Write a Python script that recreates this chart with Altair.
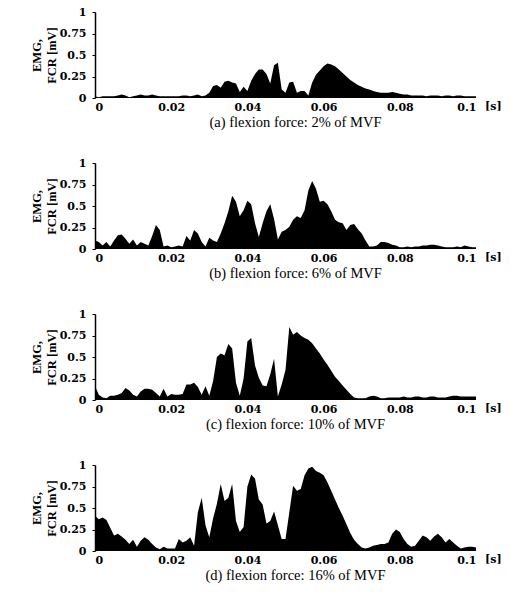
import altair as alt
import pandas as pd

# time samples in milliseconds (0 .. 100 ms)
time_ms = list(range(0, 101))

emg_2pct = [0.02, 0.01, 0.02, 0.02, 0.02, 0.02, 0.03, 0.04, 0.03, 0.01,
            0.02, 0.03, 0.04, 0.03, 0.03, 0.04, 0.03, 0.02, 0.02, 0.02,
            0.02, 0.02, 0.02, 0.03, 0.03, 0.02, 0.03, 0.04, 0.02, 0.03,
            0.06, 0.14, 0.15, 0.12, 0.19, 0.20, 0.18, 0.17, 0.07, 0.13,
            0.08, 0.20, 0.28, 0.33, 0.33, 0.28, 0.17, 0.38, 0.41, 0.10,
            0.06, 0.18, 0.19, 0.06, 0.08, 0.08, 0.03, 0.18, 0.27, 0.32,
            0.37, 0.40, 0.39, 0.37, 0.33, 0.29, 0.25, 0.21, 0.18, 0.15,
            0.13, 0.11, 0.10, 0.08, 0.07, 0.06, 0.06, 0.06, 0.07, 0.06,
            0.05, 0.04, 0.04, 0.03, 0.03, 0.03, 0.03, 0.02, 0.03, 0.03,
            0.03, 0.02, 0.03, 0.03, 0.02, 0.03, 0.03, 0.02, 0.02, 0.02,
            0.02]

emg_6pct = [0.10, 0.08, 0.04, 0.08, 0.03, 0.10, 0.16, 0.17, 0.12, 0.06,
            0.11, 0.04, 0.08, 0.06, 0.04, 0.15, 0.28, 0.22, 0.03, 0.04,
            0.02, 0.03, 0.04, 0.03, 0.15, 0.10, 0.22, 0.18, 0.08, 0.03,
            0.13, 0.10, 0.08, 0.18, 0.30, 0.44, 0.62, 0.55, 0.38, 0.45,
            0.56, 0.52, 0.30, 0.14, 0.30, 0.44, 0.52, 0.35, 0.11, 0.20,
            0.22, 0.26, 0.34, 0.38, 0.36, 0.45, 0.68, 0.79, 0.70, 0.55,
            0.56, 0.52, 0.44, 0.34, 0.31, 0.30, 0.22, 0.28, 0.29, 0.23,
            0.18, 0.10, 0.03, 0.03, 0.04, 0.08, 0.08, 0.07, 0.05, 0.04,
            0.02, 0.02, 0.03, 0.02, 0.03, 0.03, 0.04, 0.04, 0.05, 0.05,
            0.04, 0.03, 0.02, 0.02, 0.02, 0.03, 0.02, 0.04, 0.03, 0.02,
            0.02]

emg_10pct = [0.16, 0.06, 0.03, 0.02, 0.05, 0.05, 0.06, 0.08, 0.14, 0.11,
             0.06, 0.04, 0.10, 0.13, 0.13, 0.12, 0.08, 0.04, 0.13, 0.04,
             0.07, 0.06, 0.06, 0.07, 0.18, 0.18, 0.20, 0.15, 0.06, 0.16,
             0.05, 0.22, 0.50, 0.54, 0.52, 0.65, 0.60, 0.20, 0.05, 0.25,
             0.68, 0.72, 0.40, 0.26, 0.17, 0.16, 0.30, 0.48, 0.04, 0.18,
             0.35, 0.85, 0.76, 0.79, 0.75, 0.72, 0.70, 0.66, 0.60, 0.54,
             0.47, 0.41, 0.34, 0.27, 0.22, 0.17, 0.12, 0.07, 0.03, 0.02,
             0.02, 0.02, 0.04, 0.05, 0.04, 0.02, 0.02, 0.03, 0.03, 0.03,
             0.03, 0.04, 0.03, 0.03, 0.04, 0.04, 0.03, 0.03, 0.04, 0.04,
             0.03, 0.03, 0.03, 0.04, 0.05, 0.05, 0.04, 0.04, 0.04, 0.04,
             0.04]

emg_16pct = [0.41, 0.37, 0.39, 0.36, 0.27, 0.18, 0.20, 0.17, 0.13, 0.08,
             0.13, 0.05, 0.12, 0.16, 0.13, 0.08, 0.04, 0.02, 0.05, 0.03,
             0.03, 0.03, 0.14, 0.10, 0.12, 0.16, 0.06, 0.45, 0.62, 0.30,
             0.16, 0.38, 0.55, 0.78, 0.58, 0.62, 0.78, 0.35, 0.22, 0.28,
             0.75, 0.89, 0.84, 0.60, 0.54, 0.32, 0.35, 0.46, 0.30, 0.14,
             0.14, 0.45, 0.76, 0.70, 0.72, 0.88, 0.96, 0.98, 0.93, 0.91,
             0.88, 0.80, 0.70, 0.60, 0.50, 0.41, 0.31, 0.21, 0.13, 0.08,
             0.04, 0.03, 0.04, 0.06, 0.07, 0.08, 0.08, 0.10, 0.20, 0.25,
             0.22, 0.14, 0.08, 0.05, 0.06, 0.12, 0.18, 0.16, 0.12, 0.17,
             0.20, 0.16, 0.10, 0.14, 0.10, 0.06, 0.03, 0.04, 0.05, 0.05,
             0.04]

captions = ["(a) flexion force: 2% of MVF",
            "(b) flexion force: 6% of MVF",
            "(c) flexion force: 10% of MVF",
            "(d) flexion force: 16% of MVF"]

x_ticks = [0, 0.02, 0.04, 0.06, 0.08, 0.1]
y_ticks = [0, 0.25, 0.5, 0.75, 1]
unit_label = "[s]"

W, H = 381, 86
SERIF = "Liberation Serif"
TICKFONT = "DejaVu Serif"


def panel(values, caption):
    df = pd.DataFrame({"t": [m / 1000 for m in time_ms], "v": values})
    area = alt.Chart(df).mark_area(color="black", interpolate="linear").encode(
        x=alt.X("t:Q",
                scale=alt.Scale(domain=[0, 0.1], nice=False),
                axis=alt.Axis(values=x_ticks, format=".2~f", title=caption,
                              domain=False, ticks=False, grid=False,
                              labelPadding=3, titlePadding=3,
                              titleFont=SERIF, titleColor="black",
                              titleFontWeight="normal", titleFontSize=14.5,
                              labelFont=TICKFONT, labelFontWeight="bold",
                              labelFontSize=11, labelColor="black",
                              titleX=200, titleAlign="center")),
        y=alt.Y("v:Q",
                scale=alt.Scale(domain=[0, 1], nice=False),
                axis=alt.Axis(values=y_ticks, format=".2~f",
                              title=["EMG,", "FCR [mV]"],
                              domain=True, domainColor="black", domainWidth=1.5,
                              ticks=True, tickSize=3, tickColor="black",
                              grid=False, labelPadding=6, titlePadding=1,
                              titleFont=SERIF, titleColor="black",
                              titleFontWeight="bold", titleFontSize=12.5,
                              labelFont=TICKFONT, labelFontWeight="bold",
                              labelFontSize=11, labelColor="black",
                              titleLineHeight=15)),
    )
    unit = alt.Chart(pd.DataFrame({"t": [0.1], "lab": [unit_label]})).mark_text(
        align="left", baseline="top", dx=9, dy=3, font=TICKFONT, fontSize=11,
        fontWeight="bold", color="black"
    ).encode(x="t:Q", y=alt.value(H), text="lab:N")
    return alt.layer(area, unit).properties(width=W, height=H)


series = [emg_2pct, emg_6pct, emg_10pct, emg_16pct]
chart = alt.vconcat(*[panel(v, c) for v, c in zip(series, captions)], spacing=28).properties(
    padding={"left": 30, "top": 6, "right": 5, "bottom": 5},
    background="white"
).configure_view(stroke=None)

chart.save("out.html", embed_options={"renderer": "svg", "actions": False})
